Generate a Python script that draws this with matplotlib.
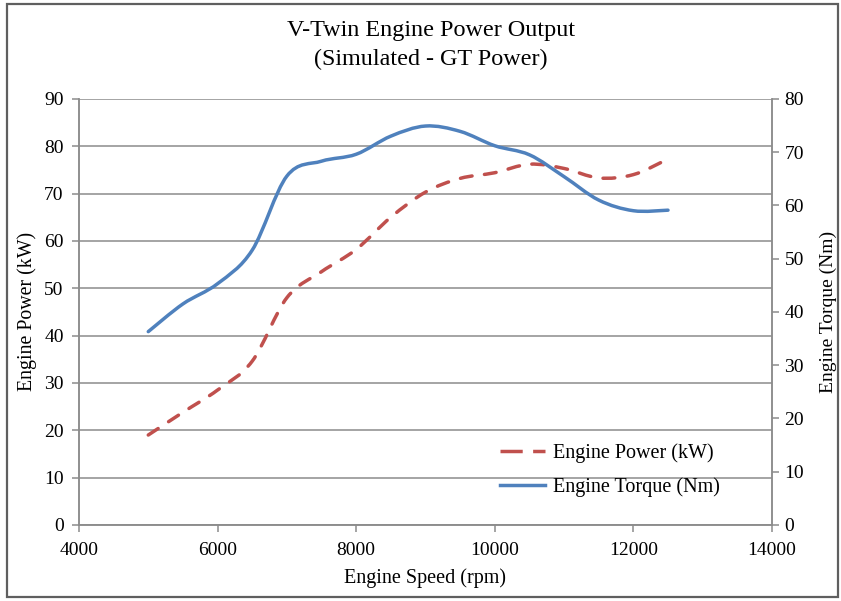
import matplotlib
matplotlib.use("Agg")
import matplotlib.pyplot as plt
from matplotlib.path import Path
from matplotlib.patches import PathPatch, Rectangle
from matplotlib.lines import Line2D

# engine speed (rpm)
rpm = [5000, 5500, 6000, 6500, 7000, 7500, 8000, 8500,
       9000, 9500, 10000, 10500, 11000, 11500, 12000, 12500]
# engine power (kW), left axis
power = [19.0, 23.8, 28.5, 34.6, 48.0, 53.5, 58.2, 65.0,
         70.3, 73.2, 74.4, 76.2, 75.3, 73.3, 74.0, 77.3]
# engine torque (Nm), right axis
torque = [36.3, 41.5, 45.3, 51.6, 65.5, 68.3, 69.6, 73.0,
          74.9, 73.9, 71.2, 69.5, 65.4, 61.0, 59.0, 59.1]

x_ticks = [4000, 6000, 8000, 10000, 12000, 14000]
left_ticks = list(range(0, 91, 10))
right_ticks = list(range(0, 81, 10))

BLUE = "#4F81BD"
RED = "#C0504D"
GRID = "#8C8C8C"
FONT = "Liberation Serif"

plt.rcParams["font.family"] = [FONT, "DejaVu Serif"]


def smooth_path(xs, ys):
    # Excel-style smoothed line: cubic Bezier segments through the points
    pts = list(zip(xs, ys))
    verts = [pts[0]]
    codes = [Path.MOVETO]
    n = len(pts)
    for i in range(n - 1):
        p0 = pts[i - 1] if i > 0 else pts[i]
        p1 = pts[i]
        p2 = pts[i + 1]
        p3 = pts[i + 2] if i + 2 < n else pts[i + 1]
        c1 = (p1[0] + (p2[0] - p0[0]) / 6, p1[1] + (p2[1] - p0[1]) / 6)
        c2 = (p2[0] - (p3[0] - p1[0]) / 6, p2[1] - (p3[1] - p1[1]) / 6)
        verts += [c1, c2, p2]
        codes += [Path.CURVE4] * 3
    return Path(verts, codes)


fig = plt.figure(figsize=(8.41, 6.01), dpi=100)
ax = fig.add_axes([0.0939, 0.1265, 0.824, 0.709])
ax2 = ax.twinx()

ax.set_xlim(4000, 14000)
ax.set_ylim(0, 90)
ax2.set_ylim(0, 80)

ax.set_xticks(x_ticks)
ax.set_yticks(left_ticks)
ax2.set_yticks(right_ticks)

ax.yaxis.grid(True, color=GRID, linewidth=1.1)
ax.set_axisbelow(True)

for a in (ax, ax2):
    a.spines["top"].set_visible(False)
    for side in ("left", "right", "bottom"):
        a.spines[side].set_color(GRID)
        a.spines[side].set_linewidth(1.1)
    a.tick_params(colors=GRID, labelcolor="black", length=5, width=1.1,
                  labelsize=14)

ax.tick_params(axis="x", pad=7)
ax.tick_params(axis="y", pad=6)
ax2.tick_params(axis="y", pad=4)

LW = 2.5
DASH = (0, (3.4, 3.6))

power_patch = PathPatch(smooth_path(rpm, power), fill=False, edgecolor=RED,
                        linewidth=LW, linestyle=DASH, capstyle="round")
ax.add_patch(power_patch)
torque_patch = PathPatch(smooth_path(rpm, torque), fill=False, edgecolor=BLUE,
                         linewidth=LW, capstyle="round")
ax2.add_patch(torque_patch)

ax.set_xlabel("Engine Speed (rpm)", fontsize=14.5, labelpad=7)
ax.set_ylabel("Engine Power (kW)", fontsize=14.3, labelpad=5)
ax2.set_ylabel("Engine Torque (Nm)", fontsize=14, rotation=90, labelpad=11)

fig.text(0.512, 0.950, "V-Twin Engine Power Output", ha="center", va="center",
         fontsize=17.4)
fig.text(0.512, 0.901, "(Simulated - GT Power)", ha="center", va="center",
         fontsize=17.4)

handles = [
    Line2D([], [], color=RED, linewidth=LW, linestyle=(0, (6.4, 3.0)),
           dash_capstyle="butt"),
    Line2D([], [], color=BLUE, linewidth=LW),
]
ax2.legend(handles, ["Engine Power (kW)", "Engine Torque (Nm)"],
           loc="lower left", bbox_to_anchor=(0.582, 0.022), frameon=False,
           fontsize=14.5, handlelength=2.23, handletextpad=0.4,
           labelspacing=0.72)

fig.patches.append(Rectangle((0.008, 0.006), 0.988, 0.987,
                             transform=fig.transFigure, fill=False,
                             edgecolor="#5f5f5f", linewidth=1.6))

fig.savefig("out.png", dpi=100, facecolor="white")
